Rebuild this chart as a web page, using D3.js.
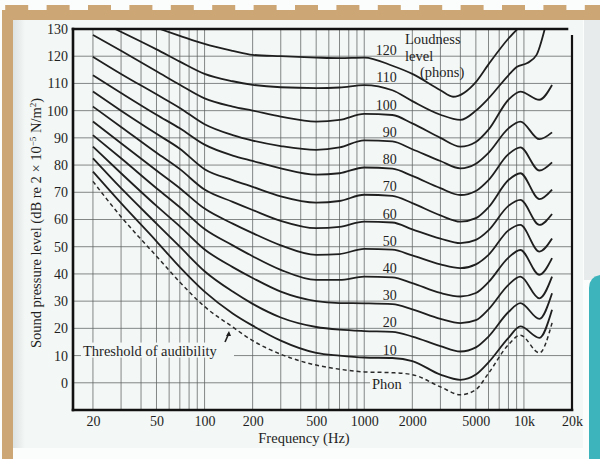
<!DOCTYPE html>
<html>
<head>
<meta charset="utf-8">
<script src="https://cdn.jsdelivr.net/npm/d3@7"></script>
<style>
  body { margin: 0; background: #fbfcfc; }
  svg { display: block; }
</style>
</head>
<body>
<script>
// equal loudness contours
var freqs = [20, 30, 50, 70, 100, 150, 200, 300, 500, 700, 1000, 1500, 2000, 3000, 4000, 5000, 6000, 8000, 9500, 12500, 15000];

var threshold = [74, 61, 46.5, 37, 28, 20.5, 15.5, 10.5, 6.5, 5, 4, 3.7, 3, -1.5, -4.4, -2.5, 3.5, 14, 17.5, 11, 22];
var phon10  = [77.6, 66, 52, 42.5, 33.5, 25.5, 21, 15.5, 11, 10, 9.3, 9.1, 8, 3, 1.1, 3, 7.5, 16.5, 20.7, 16.5, 26.8];
var phon20  = [82.5, 71.5, 58.5, 50, 41, 33.5, 29, 24, 20.5, 19.5, 19, 18.7, 17, 13.5, 11.5, 13, 17, 26, 29.3, 23.5, 32.9];
var phon30  = [86.8, 77, 65, 57.5, 49, 42.5, 38.5, 33.5, 30, 29.3, 29.2, 28.9, 27, 23.5, 21.9, 23, 27, 36, 39, 31, 39];
var phon40  = [91, 82.5, 71.5, 64.5, 56.5, 50.5, 46.5, 41.5, 37.8, 37.8, 39, 38.7, 36.6, 33, 31.7, 33, 37, 46, 48.8, 39.7, 45.8];
var phon50  = [96, 88, 78, 71.5, 64, 58.5, 55, 50.5, 47, 47.3, 49.2, 48.9, 46.8, 43.5, 42.1, 43.5, 47, 56, 58, 48.2, 53];
var phon60  = [101.5, 94, 84.5, 78.5, 71, 66.5, 63.5, 59.5, 56.8, 57.3, 59.2, 58.9, 56.4, 53, 51.3, 52.5, 56, 65, 67.2, 58, 62];
var phon70  = [107, 100, 91.5, 86, 78.5, 74.5, 72, 68.5, 66.2, 66.8, 69.1, 68.7, 66, 61.5, 59.2, 60.5, 64.5, 74.5, 77, 67.5, 71];
var phon80  = [113, 106.5, 98.5, 93.5, 87.5, 83.5, 81.5, 78.8, 76.5, 77, 79.1, 78.7, 76, 71.5, 69, 70.5, 74.5, 84, 86.5, 78, 81];
var phon90  = [119.8, 113.5, 106, 101, 95, 91, 89, 87, 85.6, 86.5, 89.1, 88.7, 85.8, 81.5, 78.8, 80.5, 84.5, 93.5, 96, 89.5, 92];
var phon100 = [127.8, 122, 114.5, 109.5, 104.5, 101.5, 100, 97.8, 96, 96.6, 98.8, 98.4, 95.3, 90, 86.8, 88.5, 93, 104, 107, 104, 109.4];

// the two loudest curves run off the top of the chart
var freqs110 = [27.5, 50, 70, 100, 150, 200, 300, 500, 700, 1000, 1500, 2000, 3000, 4000, 5000, 6000, 8000, 9000, 10500, 12000, 13500];
var phon110  = [130, 122.5, 118, 113.5, 110.8, 109.5, 108.6, 108.3, 108.5, 109.4, 107.5, 103.5, 98.5, 96.6, 100, 104.5, 113, 116, 117.5, 120.5, 130];
var freqs120 = [52.5, 70, 100, 150, 200, 300, 500, 700, 1000, 1500, 2000, 3000, 3600, 5000, 6000, 8000, 9100];
var phon120  = [130, 127.5, 124.5, 122, 120.5, 120, 119.5, 119.3, 119.5, 116.5, 113.5, 107.5, 105.1, 110.5, 117, 126.5, 130];

var curveLabels = [120, 110, 100, 90, 80, 70, 60, 50, 40, 30, 20, 10];
var yTicks = [0, 10, 20, 30, 40, 50, 60, 70, 80, 90, 100, 110, 120, 130];
var xTickValues = [20, 50, 100, 200, 500, 1000, 2000, 5000, 10000, 20000];
var xTickLabels = ["20", "50", "100", "200", "500", "1000", "2000", "5000", "10k", "20k"];

;(function() {

  var width = 600;
  var height = 459;
  var paper = "#f3f7f5";
  var tan = "#cca775";
  var ink = "#1f1f1f";
  var serif = "'Liberation Serif', 'Times New Roman', serif";

  var svg = d3.select("body")
    .append("svg")
    .attr("width", width)
    .attr("height", height);

  var x = d3.scaleLog()
    .domain([15, 20000])
    .range([73, 572]);

  var y = d3.scaleLinear()
    .domain([-10, 130])
    .range([410, 29]);

  // ---- page / frame decoration
  svg.append("rect")
    .attr("width", width).attr("height", height)
    .attr("fill", "#fbfcfc");

  svg.append("rect")
    .attr("x", 584).attr("y", 20).attr("width", 16).attr("height", 260)
    .attr("fill", "#e7ebeb");

  svg.append("path")
    .attr("d", "M589,459 L589,288 Q589,277 600,275 L600,459 Z")
    .attr("fill", "#3db3bb");

  svg.append("rect")
    .attr("x", 13).attr("y", 20).attr("width", 570).attr("height", 428)
    .attr("fill", paper);

  var defs = svg.append("defs");
  var grad = defs.append("linearGradient").attr("id", "edge");
  grad.append("stop").attr("offset", "0%").attr("stop-color", "#dde2e2");
  grad.append("stop").attr("offset", "100%").attr("stop-color", paper);
  svg.append("rect")
    .attr("x", 13).attr("y", 20).attr("width", 12).attr("height", 428)
    .attr("fill", "url(#edge)");

  defs.append("clipPath").attr("id", "plot")
    .append("rect")
    .attr("x", x.range()[0]).attr("y", y.range()[1])
    .attr("width", x.range()[1] - x.range()[0])
    .attr("height", y.range()[0] - y.range()[1]);

  svg.append("rect")
    .attr("x", 2).attr("y", 10).attr("width", 11).attr("height", 449)
    .attr("fill", tan);
  svg.append("rect")
    .attr("x", 2).attr("y", 10).attr("width", 598).attr("height", 10)
    .attr("fill", tan);
  svg.selectAll(".notch")
    .data(d3.range(15))
    .enter().append("rect")
    .attr("class", "notch")
    .attr("x", function(d) { return 5.2 + d * 41.4 })
    .attr("y", 5).attr("width", 23).attr("height", 5)
    .attr("fill", tan);

  // ---- grid
  var grid = svg.append("g");

  grid.selectAll(".vgrid")
    .data(x.ticks().filter(function(d) { return d >= 20 && d <= 10000 }))
    .enter().append("line")
    .attr("class", "vgrid")
    .attr("x1", function(d) { return x(d) }).attr("x2", function(d) { return x(d) })
    .attr("y1", y(130)).attr("y2", y(-10))
    .attr("stroke", "#5e6262").attr("stroke-width", 1).attr("opacity", 0.75);

  grid.selectAll(".hgrid")
    .data(yTicks.filter(function(d) { return d < 130 }))
    .enter().append("line")
    .attr("class", "hgrid")
    .attr("x1", x.range()[0]).attr("x2", x.range()[1])
    .attr("y1", function(d) { return y(d) }).attr("y2", function(d) { return y(d) })
    .attr("stroke", "#5e6262").attr("stroke-width", 1).attr("opacity", 0.75);

  // ---- axes (labels only, frame drawn below)
  var xaxis = d3.axisBottom(x)
    .tickValues(xTickValues)
    .tickFormat(function(d, i) { return xTickLabels[i] })
    .tickSize(0)
    .tickPadding(6);

  var yaxis = d3.axisLeft(y)
    .tickValues(yTicks)
    .tickSize(0)
    .tickPadding(5);

  var gx = svg.append("g")
    .attr("transform", "translate(0," + y(-10) + ")")
    .call(xaxis);
  var gy = svg.append("g")
    .attr("transform", "translate(" + x.range()[0] + ",0)")
    .call(yaxis);

  [gx, gy].forEach(function(g) {
    g.select(".domain").remove();
    g.selectAll("text")
      .attr("fill", ink)
      .style("font-family", serif)
      .style("font-size", "14px");
  });

  // ---- curves
  var line = d3.line()
    .x(function(d) { return x(d[0]) })
    .y(function(d) { return y(d[1]) })
    .curve(d3.curveMonotoneX);

  function pairs(fs, vals) {
    return fs.map(function(f, i) { return [f, vals[i]] });
  }

  var solid = [
    pairs(freqs, phon10), pairs(freqs, phon20), pairs(freqs, phon30),
    pairs(freqs, phon40), pairs(freqs, phon50), pairs(freqs, phon60),
    pairs(freqs, phon70), pairs(freqs, phon80), pairs(freqs, phon90),
    pairs(freqs, phon100), pairs(freqs110, phon110), pairs(freqs120, phon120)
  ];

  var curves = svg.append("g").attr("clip-path", "url(#plot)");

  curves.selectAll(".contour")
    .data(solid)
    .enter().append("path")
    .attr("class", "contour")
    .attr("d", line)
    .attr("fill", "none")
    .attr("stroke", ink)
    .attr("stroke-width", 1.8);

  curves.append("path")
    .datum(pairs(freqs, threshold))
    .attr("d", line)
    .attr("fill", "none")
    .attr("stroke", "#2a2a2a")
    .attr("stroke-width", 1.5)
    .attr("stroke-dasharray", "4,3");

  // ---- frame
  var frame = svg.append("g").attr("stroke", "#111").attr("stroke-linecap", "square");
  frame.append("line")
    .attr("x1", x.range()[0]).attr("x2", x.range()[0])
    .attr("y1", y(130)).attr("y2", y(-10)).attr("stroke-width", 2.6);
  frame.append("line")
    .attr("x1", x.range()[0]).attr("x2", x.range()[1])
    .attr("y1", y(-10)).attr("y2", y(-10)).attr("stroke-width", 2.6);
  frame.append("line")
    .attr("x1", x.range()[0]).attr("x2", x.range()[1] - 5)
    .attr("y1", y(130)).attr("y2", y(130)).attr("stroke-width", 2.6);
  frame.append("line")
    .attr("x1", x.range()[1]).attr("x2", x.range()[1])
    .attr("y1", y(130) + 7).attr("y2", y(-10)).attr("stroke-width", 2.2);

  // ---- curve labels
  svg.selectAll(".phonlabel")
    .data(curveLabels)
    .enter().append("text")
    .attr("class", "phonlabel")
    .attr("x", x(1600))
    .attr("y", function(d) { return y(d) - 1 })
    .attr("text-anchor", "end")
    .attr("fill", ink)
    .style("font-family", serif)
    .style("font-size", "14px")
    .text(function(d) { return d });

  var note = svg.append("text")
    .attr("fill", ink)
    .style("font-family", serif)
    .style("font-size", "14.5px");
  note.append("tspan").attr("x", 405).attr("y", 44).text("Loudness");
  note.append("tspan").attr("x", 405).attr("y", 61).text("level");
  note.append("tspan").attr("x", 420).attr("y", 77).text("(phons)");

  // threshold label sits on the 10 dB line
  svg.append("rect")
    .attr("x", 81).attr("y", y(10) - 13).attr("width", 153).attr("height", 15)
    .attr("fill", paper);
  svg.append("text")
    .attr("x", 83).attr("y", y(10) + 0.5)
    .attr("fill", ink)
    .style("font-family", serif)
    .style("font-size", "14.5px")
    .text("Threshold of audibility");
  svg.append("line")
    .attr("x1", 225).attr("y1", 342).attr("x2", 229).attr("y2", 333)
    .attr("stroke", ink).attr("stroke-width", 1.6);
  svg.append("path")
    .attr("d", "M229,331 L226,336 L231,336 Z")
    .attr("fill", ink);

  svg.append("rect")
    .attr("x", 370).attr("y", y(0) - 7).attr("width", 39).attr("height", 14)
    .attr("fill", paper);
  svg.append("text")
    .attr("x", 372).attr("y", y(0) + 6)
    .attr("fill", ink)
    .style("font-family", serif)
    .style("font-size", "14.5px")
    .text("Phon");

  // ---- axis titles
  svg.append("text")
    .attr("x", 304).attr("y", 443)
    .attr("text-anchor", "middle")
    .attr("fill", ink)
    .style("font-family", serif)
    .style("font-size", "14.5px")
    .text("Frequency (Hz)");

  var ytitle = svg.append("text")
    .attr("transform", "translate(41,223) rotate(-90)")
    .attr("text-anchor", "middle")
    .attr("fill", ink)
    .style("font-family", serif)
    .style("font-size", "14.5px");
  ytitle.append("tspan").text("Sound pressure level (dB re 2 × 10");
  ytitle.append("tspan").attr("dy", -5).style("font-size", "9px").text("−5");
  ytitle.append("tspan").attr("dy", 5).text(" N/m");
  ytitle.append("tspan").attr("dy", -5).style("font-size", "9px").text("2");
  ytitle.append("tspan").attr("dy", 5).text(")");

  console.log("chart drawn");
})();
</script>
</body>
</html>
